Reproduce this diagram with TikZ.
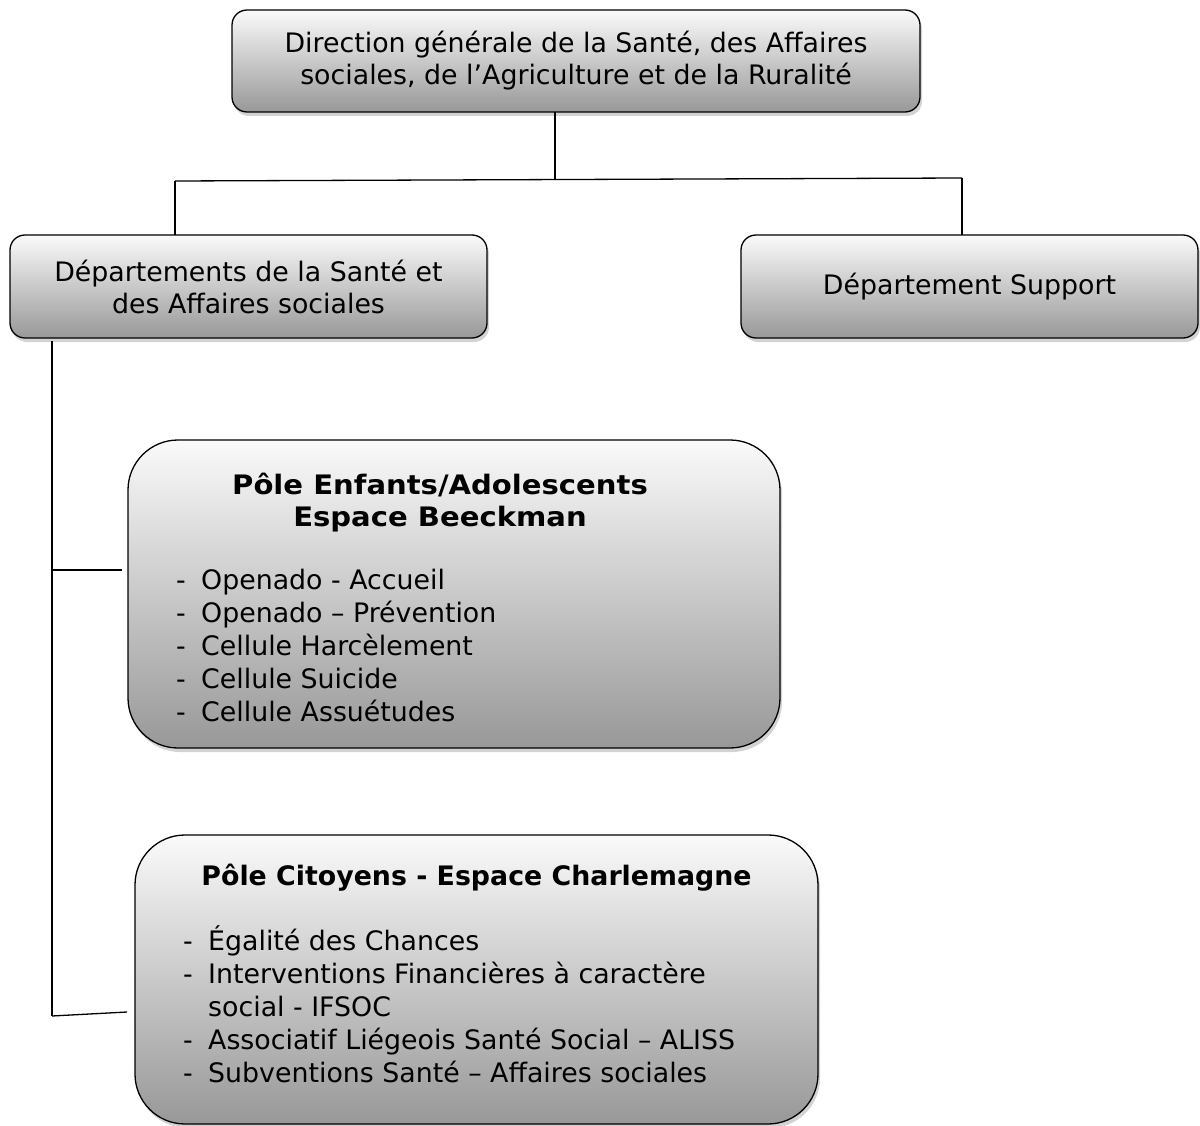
\documentclass[tikz,border=0pt]{standalone}
\usepackage{fontspec}
\setmainfont{DejaVu Sans}
\usetikzlibrary{shadows}
\definecolor{gtop}{RGB}{250,250,250}
\definecolor{gbot}{RGB}{152,152,152}
\begin{document}
\begin{tikzpicture}[x=1pt,y=-1pt,
  box/.style={draw=black, line width=1.3pt, top color=gtop, bottom color=gbot,
    drop shadow={shadow xshift=2pt, shadow yshift=-4pt, opacity=0.35},
    inner sep=0pt, outer sep=0pt, align=center,
    font=\fontsize{26.8}{32}\selectfont},
  smallbox/.style={box, rounded corners=15pt},
  bigbox/.style={box, rounded corners=50pt},
  txt/.style={anchor=base west, inner sep=0pt, font=\fontsize{26.8}{32}\selectfont},
  ttl/.style={anchor=base, inner sep=0pt, font=\fontsize{26.8}{32}\selectfont\bfseries},
  widettl/.style={ttl, font=\fontsize{26.8}{32}\selectfont\bfseries\addfontfeature{FakeStretch=1.085}},
  conn/.style={draw=black, line width=1.3pt}]
\useasboundingbox (0,0) rectangle (1200,1126);

\node[smallbox, minimum width=688pt, minimum height=102pt] (top) at (576,61)
  {Direction générale de la Santé, des Affaires\\sociales, de l’Agriculture et de la Ruralité};
\node[smallbox, minimum width=477pt, minimum height=103pt] (dl) at (248.5,286.5)
  {Départements de la Santé et\\des Affaires sociales};
\node[smallbox, minimum width=457pt, minimum height=103pt] (dr) at (969.5,286.5)
  {Département Support};
\node[bigbox, minimum width=652pt, minimum height=308pt] (p1) at (454,594) {};
\node[bigbox, minimum width=683pt, minimum height=289pt] (p2) at (476.5,979.5) {};

% texts of pole 1
\node[widettl] (p1t1) at (440,494) {Pôle Enfants/Adolescents};
\node[widettl] (p1t2) at (440,526) {Espace Beeckman};
\node[txt] (a1d) at (176,589) {-}; \node[txt] (a1) at (201,589) {Openado - Accueil};
\node[txt] (a2d) at (176,622) {-}; \node[txt] (a2) at (201,622) {Openado – Prévention};
\node[txt] (a3d) at (176,655) {-}; \node[txt] (a3) at (201,655) {Cellule Harcèlement};
\node[txt] (a4d) at (176,688) {-}; \node[txt] (a4) at (201,688) {Cellule Suicide};
\node[txt] (a5d) at (176,721) {-}; \node[txt] (a5) at (201,721) {Cellule Assuétudes};

% texts of pole 2
\node[ttl] (p2t1) at (476.5,885) {Pôle Citoyens - Espace Charlemagne};
\node[txt] (b1d) at (183,950) {-}; \node[txt] (b1) at (208,950) {Égalité des Chances};
\node[txt] (b2d) at (183,983) {-}; \node[txt] (b2) at (208,983) {Interventions Financières à caractère};
\node[txt] (b2b) at (208,1016) {social - IFSOC};
\node[txt] (b3d) at (183,1049) {-}; \node[txt] (b3) at (208,1049) {Associatif Liégeois Santé Social – ALISS};
\node[txt] (b4d) at (183,1082) {-}; \node[txt] (b4) at (208,1082) {Subventions Santé – Affaires sociales};

% connectors
\coordinate (j) at (555,180);
\coordinate (hl) at (175,181);
\coordinate (hr) at (962,178);
\draw[conn] (top.south -| j) -- (j);
\draw[conn] (hl) -- (hr);
\draw[conn] (hl) -- (hl |- dl.north);
\draw[conn] (hr) -- (hr |- dr.north);
\coordinate (t0) at (52,341);
\coordinate (t1) at (52,570);
\coordinate (t2) at (52,1016);
\coordinate (e1) at (122,570);
\coordinate (e2) at (127,1012);
\draw[conn] (t0) -- (t2);
\draw[conn] (t1) -- (e1);
\draw[conn] (t2) -- (e2);
\end{tikzpicture}
\end{document}
